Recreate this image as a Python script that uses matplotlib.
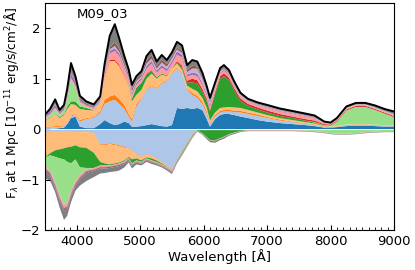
import numpy as np
import matplotlib
matplotlib.use("Agg")
import matplotlib.pyplot as plt

# wavelength grid [Angstrom]
wave = [3500, 3580, 3660, 3730, 3800, 3850, 3910, 3980, 4050, 4150, 4270, 4370, 4440, 4520, 4600,
        4670, 4750, 4820, 4870, 4940, 5020, 5100, 5180, 5260, 5340, 5420, 5500, 5580, 5660, 5740,
        5820, 5900, 5980, 6050, 6100, 6180, 6260, 6320, 6400, 6480, 6580, 6700, 6850, 7000, 7200,
        7400, 7600, 7750, 7900, 8000, 8100, 8250, 8400, 8550, 8700, 8850, 9000]

# emission contributions (10^-11 erg/s/cm^2/A), bottom to top
em_db = [0, 0, .01, .02, .03, .10, .22, .25, .05, .02, .02, .10, .18, .12, .08, .10, .15, .12, .05, .05,
         .06, .08, .10, .08, .06, .05, .08, .42, .40, .42, .40, .42, .38, .20, .05, .20, .28, .30, .30, .28,
         .25, .22, .18, .15, .12, .10, .08, .06, .03, .03, .04, .06, .07, .07, .06, .05, .05]
em_lb = [.03, .03, .03, .02, .03, .03, .03, .03, .10, .18, .20, .22, .32, .43, .50, .40, .25, .13, .10, .40,
         .54, .70, .75, .72, .84, .90, 1.02, .78, .70, .36, .28, .20, .12, .10, .05, .05, .05, .05, .05, .06,
         .08, .08, .08, .07, .05, .04, .03, .02, .01, .005, .005, .01, .01, .01, .01, .01, .01]
em_or = [.01, .02, .02, .02, .02, .02, .02, .02, .03, .02, .02, .04, .08, .10, .10, .10, .08, .05, .05, .05,
         .02, .02, .02, .02, .02, .02, .02, .02, .02, .02, .04, .04, .05, .05, .03, .03, .03, .03, .03, .03,
         .03, .03, .03, .02, .02, .01, .01, .01, .01, .005, .005, .01, .01, .01, .01, .01, .01]
em_lo = [.14, .17, .24, .16, .20, .25, .23, .18, .22, .16, .13, .16, .42, .70, .67, .65, .57, .55, .35, .18,
         .16, .20, .23, .18, .16, .08, .08, .08, .06, .06, .08, .09, .07, .07, .04, .05, .06, .05, .06, .06,
         .06, .05, .04, .04, .03, .03, .02, .02, .01, .01, .01, .01, .01, .01, .01, .01, .01]
em_gr = [.01, .01, .01, .02, .02, .05, .05, .07, .05, .04, .01, .01, 0, 0, 0, 0, 0, .02, .05, .14,
         .14, .08, .05, .03, .02, .02, .01, .02, .04, .06, .13, .15, .13, .13, .18, .37, .58, .62, .53, .34,
         .14, .08, .06, .05, .04, .04, .03, .02, .01, 0, 0, 0, 0, 0, 0, 0, 0]
em_lg = [.02, .05, .09, .04, .06, .15, .43, .27, .07, .02, .01, 0, 0, 0, 0, 0, 0, 0, 0, 0,
         0, 0, 0, 0, 0, 0, 0, 0, 0, 0, 0, 0, 0, 0, 0, 0, 0, 0, 0, 0,
         0, 0, 0, 0, 0, 0, 0, .01, .01, .02, .09, .28, .34, .34, .29, .23, .16]
em_rd = [0, 0, 0, 0, 0, 0, 0, 0, 0, 0, 0, 0, .02, .03, .03, .03, .02, 0, 0, 0,
         0, .02, .02, 0, 0, 0, 0, .03, .04, .04, .07, .07, .05, .05, .03, .04, .05, .06, .05, .05,
         .05, .04, .04, .04, .04, .03, .03, .03, .02, .02, .02, .02, .02, .02, .02, .02, .02]
em_pk = [.02, .02, .03, .02, .02, .03, .04, .04, .03, .03, .03, .04, .11, .12, .17, .17, .13, .10, .08, .06,
         .06, .10, .13, .09, .12, .08, .09, .13, .16, .08, .08, .08, .08, .06, .06, .06, .05, .05, .05, .04,
         .04, .04, .04, .05, .05, .05, .05, .04, .02, .02, .02, .02, .02, .02, .02, .02, .02]
em_pu = [.02, .04, .05, .02, .03, .05, .08, .06, .03, .02, .02, .02, .03, .05, .05, .05, .04, .03, .04, .04,
         .04, .05, .05, .04, .05, .04, .05, .06, .05, .04, .04, .05, .04, .04, .05, .02, .02, .02, .02, .02,
         .01, .01, .01, .01, .01, .01, .01, .01, 0, 0, 0, 0, 0, 0, 0, 0, 0]
em_lp = [0, 0, .01, 0, 0, 0, .02, 0, 0, 0, 0, 0, .02, .03, .05, .03, .03, .03, .03, .03,
         .03, .05, .05, .04, .05, .05, .05, .04, .04, .05, .08, .10, .08, .06, .05, .03, .03, .02, .02, .02,
         .02, .01, .01, .01, .01, .01, .01, .01, .01, 0, .005, .01, .01, .01, .01, .01, .01]
em_br = [.01, .01, .01, .01, .02, .03, .03, .03, .02, .02, .01, .02, .02, .04, .07, .07, .05, .05, .05, .04,
         .04, .06, .07, .05, .06, .05, .04, .04, .04, .04, .06, .04, .04, .03, .03, .02, .02, .02, .02, .02,
         .01, .01, .01, .01, .01, .01, .01, .01, 0, .01, .005, 0, 0, 0, 0, 0, .01]
em_gy = [.03, .05, .09, .05, .05, .09, .16, .10, .06, .04, .04, .04, .10, .23, .36, .20, .13, .10, .08, .06,
         .06, .09, .10, .09, .09, .08, .08, .11, .11, .10, .11, .10, .08, .06, .05, .05, .04, .05, .04, .03,
         .03, .03, .03, .03, .03, .03, .03, .03, .02, .01, .02, .03, .03, .03, .04, .04, .05]

# absorption contributions (magnitudes, drawn below zero), top to bottom
ab_lb = [.04, .04, .04, .04, .04, .04, .04, .04, .05, .05, .08, .30, .30, .28, .30, .32, .35, .38, .42, .50,
         .55, .50, .52, .58, .65, .72, .80, .60, .43, .27, .11, .02, .02, .02, .02, .02, .02, .02, .02, .02,
         .02, .02, .02, .02, .02, .02, .02, .02, .02, .01, .01, .01, .01, .01, .01, .01, .01]
ab_or = [.01, .01, .01, .01, .01, .01, .01, .01, .01, .01, .01, .02, .02, .02, .02, .02, .02, .01, .01, .01,
         .01, .01, .01, .01, .01, .01, .01, .01, .01, .01, .01, 0, 0, 0, 0, 0, 0, 0, 0, 0,
         0, 0, 0, 0, 0, 0, 0, 0, 0, 0, 0, 0, 0, 0, 0, 0, 0]
ab_lo = [.50, .43, .37, .35, .33, .31, .30, .27, .30, .31, .38, .33, .36, .40, .36, .32, .25, .16, .17, .07,
         .06, .05, .05, .03, .02, .01, .01, .01, .01, .01, .01, 0, 0, 0, 0, 0, 0, 0, 0, 0,
         0, 0, 0, 0, 0, 0, 0, 0, 0, 0, 0, 0, 0, 0, 0, 0, 0]
ab_gr = [.01, .04, .13, .18, .22, .29, .33, .28, .40, .40, .30, .07, .04, .02, .02, .02, .02, .02, .08, .04,
         .03, .02, .04, .03, .02, .01, .01, .01, .02, .02, .02, .01, .06, .14, .20, .21, .16, .13, .08, .05,
         .02, 0, 0, 0, 0, 0, 0, 0, 0, 0, 0, 0, 0, 0, 0, 0, 0]
ab_lg = [.19, .30, .50, .72, .90, .82, .55, .43, .15, .03, 0, 0, 0, 0, 0, 0, 0, 0, 0, 0,
         0, 0, 0, 0, 0, 0, 0, 0, 0, 0, 0, 0, 0, 0, 0, 0, 0, 0, 0, 0,
         0, 0, 0, 0, 0, 0, .01, .02, .04, .07, .08, .08, .07, .05, .04, .03, .03]
ab_pk = [.03, .04, .05, .06, .06, .06, .05, .05, .04, .03, .03, .03, .03, .02, .02, .02, .02, .02, .02, .02,
         .02, .02, .02, .02, .02, .02, .01, .01, .01, .01, .01, .01, .01, .01, .01, .01, .01, .01, .01, .01,
         .01, .01, .01, .01, .01, .01, .01, .01, .01, .01, .01, .01, .01, .01, .01, .01, .01]
ab_pu = [.03, .03, .03, .03, .03, .03, .03, .02, .02, .02, .01, .01, .01, .01, .01, .01, .01, .01, .01, .01,
         .01, .01, .01, .01, .01, .01, .01, .01, .01, 0, 0, 0, 0, 0, 0, 0, 0, 0, 0, 0,
         0, 0, 0, 0, 0, 0, 0, 0, 0, 0, 0, 0, 0, 0, 0, 0, 0]
ab_br = [.03, .03, .03, .03, .03, .03, .03, .03, .03, .02, .02, .02, .02, .02, .02, .02, .02, .01, .02, .01,
         .01, .01, .01, .01, .01, .01, .01, .01, .01, .01, 0, 0, 0, 0, 0, 0, 0, 0, 0, 0,
         0, 0, 0, 0, 0, 0, 0, 0, 0, 0, 0, 0, 0, 0, 0, 0, 0]
ab_gy = [.14, .10, .09, .13, .18, .13, .11, .09, .12, .16, .12, .10, .09, .08, .09, .09, .07, .05, .05, .04,
         .03, .03, .03, .03, .02, .03, .03, .02, .02, .02, .02, .01, .02, .03, .03, .03, .03, .03, .02, .02,
         .01, .01, .01, .01, .01, .01, .01, .01, .01, .01, .01, .01, .01, .01, .01, .01, .01]

model_name = "M09_03"
x_ticks = [4000, 5000, 6000, 7000, 8000, 9000]
y_ticks = [-2, -1, 0, 1, 2]

c_db, c_lb, c_or, c_lo = "#1f77b4", "#aec7e8", "#ff7f0e", "#ffbb78"
c_gr, c_lg, c_rd, c_pk = "#2ca02c", "#98df8a", "#d62728", "#ff9896"
c_pu, c_lp, c_br, c_gy = "#9467bd", "#c5b0d5", "#8c564b", "#7f7f7f"

em_layers = [em_db, em_lb, em_or, em_lo, em_gr, em_lg, em_rd, em_pk, em_pu, em_lp, em_br, em_gy]
em_colors = [c_db, c_lb, c_or, c_lo, c_gr, c_lg, c_rd, c_pk, c_pu, c_lp, c_br, c_gy]
ab_layers = [ab_lb, ab_or, ab_lo, ab_gr, ab_lg, ab_pk, ab_pu, ab_br, ab_gy]
ab_colors = [c_lb, c_or, c_lo, c_gr, c_lg, c_pk, c_pu, c_br, c_gy]

w = np.array(wave, dtype=float)

fig = plt.figure(figsize=(4.15, 2.70), dpi=100)
ax = fig.add_axes([0.1084, 0.1481, 0.8410, 0.8407])

ax.stackplot(w, *[np.array(l) for l in em_layers], colors=em_colors, linewidth=0)
ax.stackplot(w, *[-np.array(l) for l in ab_layers], colors=ab_colors, linewidth=0)
ax.axhline(0, color="white", lw=0.6)
total = np.sum([np.array(l) for l in em_layers], axis=0)
ax.plot(w, total, color="black", lw=1.4)

ax.text(4000, 2.3, model_name, ha="left", va="center", fontsize=9.5)

ax.set_xlim(3500, 9000)
ax.set_ylim(-2, 2.5)
ax.set_xticks(x_ticks)
ax.set_yticks(y_ticks)
ax.set_xticks(np.arange(3500, 9001, 100), minor=True)
ax.tick_params(axis="both", which="both", direction="in", labelsize=9.5)
ax.tick_params(axis="x", which="minor", length=2)
ax.tick_params(axis="y", which="minor", left=False)
ax.set_xlabel("Wavelength [Å]", fontsize=9.5, labelpad=1)
ax.set_ylabel(r"F$_\lambda$ at 1 Mpc [10$^{-11}$ erg/s/cm$^2$/Å]", fontsize=8.7)
ax.yaxis.set_label_coords(-0.069, 0.56)

fig.savefig("out.png", dpi=100)
